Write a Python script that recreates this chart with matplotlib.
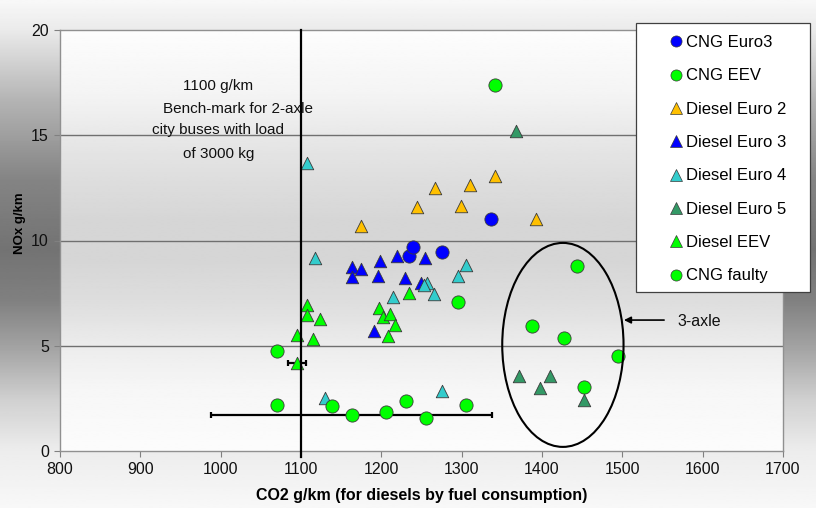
import numpy as np
import matplotlib as mpl
mpl.use('AGG')
import matplotlib.pyplot as plt
from matplotlib.lines import Line2D
from matplotlib.patches import Ellipse, Rectangle

mpl.rc('font', **{'family': 'Liberation Sans', 'size': 11})

# ---- data ----
cng_euro3_x = [1234, 1239, 1276, 1336]
cng_euro3_y = [9.26, 9.69, 9.45, 11.0]

cng_eev_x = [1070, 1163, 1206, 1231, 1256, 1305, 1387, 1427, 1443, 1494, 1452]
cng_eev_y = [2.19, 1.71, 1.85, 2.38, 1.57, 2.19, 5.94, 5.37, 8.79, 4.51, 3.04]

d_euro2_x = [1175, 1244, 1267, 1299, 1310, 1341, 1392]
d_euro2_y = [10.69, 11.6, 12.5, 11.64, 12.64, 13.06, 11.02]

d_euro3_x = [1164, 1175, 1164, 1198, 1196, 1219, 1254, 1229, 1249, 1191]
d_euro3_y = [8.74, 8.65, 8.27, 9.03, 8.31, 9.26, 9.17, 8.22, 7.98, 5.7]

d_euro4_x = [1107, 1117, 1305, 1296, 1257, 1253, 1266, 1214, 1130, 1275]
d_euro4_y = [13.7, 9.17, 8.84, 8.31, 7.98, 7.89, 7.46, 7.3, 2.52, 2.85]

d_euro5_x = [1368, 1371, 1397, 1410, 1452]
d_euro5_y = [15.2, 3.56, 3.0, 3.56, 2.42]

d_eev_x = [1108, 1108, 1124, 1095, 1115, 1197, 1202, 1211, 1217, 1208, 1234, 1095]
d_eev_y = [6.94, 6.46, 6.27, 5.51, 5.34, 6.81, 6.35, 6.51, 5.99, 5.48, 7.52, 4.18]

cng_faulty_x = [1070, 1139, 1296, 1341]
cng_faulty_y = [4.75, 2.14, 7.08, 17.39]

err_x = [1163, 1095]
err_y = [1.71, 4.18]
err_xerr = [175, 11]

series = [
    ('CNG Euro3', cng_euro3_x, cng_euro3_y, 'o', '#0000FF'),
    ('CNG EEV', cng_eev_x, cng_eev_y, 'o', '#00FF00'),
    ('Diesel Euro 2', d_euro2_x, d_euro2_y, '^', '#FFC000'),
    ('Diesel Euro 3', d_euro3_x, d_euro3_y, '^', '#0000FF'),
    ('Diesel Euro 4', d_euro4_x, d_euro4_y, '^', '#33CCCC'),
    ('Diesel Euro 5', d_euro5_x, d_euro5_y, '^', '#339966'),
    ('Diesel EEV', d_eev_x, d_eev_y, '^', '#00FF00'),
    ('CNG faulty', cng_faulty_x, cng_faulty_y, 'o', '#00FF00'),
]

fig = plt.figure(figsize=(8.16, 5.08), dpi=100)

# figure background: vertical grey gradient, darkest around the middle
bg = fig.add_axes([0, 0, 1, 1], zorder=-10)
rows = np.linspace(0, 508, 300)
fig_grad = np.interp(rows, [0, 30, 100, 180, 250, 300, 350, 400, 450, 508],
                     [248, 234, 180, 132, 115, 128, 165, 208, 236, 248])
bg.imshow(fig_grad[:, None], cmap='gray', vmin=0, vmax=255, aspect='auto',
          extent=[0, 1, 0, 1], interpolation='bilinear')
bg.axis('off')

ax = fig.add_axes([60/816, 57/508, 723/816, 421/508])
ax.patch.set_alpha(0)
yy = np.linspace(0, 20, 300)
ax_grad = np.interp(yy, [0, 3, 5, 7, 9, 11, 13, 15, 17, 20],
                    [252, 246, 236, 222, 214, 214, 222, 232, 244, 253])
ax.imshow(ax_grad[:, None], extent=[800, 1700, 0, 20], origin='lower',
          aspect='auto', cmap='gray', vmin=0, vmax=255, zorder=0,
          interpolation='bilinear')

for yv in [5, 10, 15]:
    ax.axhline(yv, color='#707070', lw=1.0, zorder=1)

ax.errorbar(err_x, err_y, xerr=err_xerr, fmt='none', ecolor='black',
            elinewidth=1.6, capsize=2.5, capthick=1.6, zorder=2)

for i, (name, xs, ys, m, c) in enumerate(series):
    size = 9.5 if m == 'o' else 9.0
    ax.scatter(xs, ys, s=size**2, marker=m, c=c, edgecolors='#3a3a3a',
               linewidths=0.6, zorder=3 + i * 0.1)

ax.plot([1100, 1100], [-0.3, 20], color='black', lw=1.6, zorder=5, clip_on=False)

ax.add_patch(Ellipse((1426, 5.04), 151, 9.69, fill=False, ec='black', lw=1.5, zorder=5))
ax.annotate('', xy=(1502, 6.22), xytext=(1552, 6.22),
            arrowprops=dict(arrowstyle='-|>', color='black', lw=1.2,
                            mutation_scale=10, shrinkA=0, shrinkB=0))
ax.text(1569, 6.22, '3-axle', fontsize=11.5, va='center_baseline', ha='left', color='#111111')

bench_lines = ['1100 g/km', 'Bench-mark for 2-axle', 'city buses with load', 'of 3000 kg']
bench_x = [997, 1021, 997, 997]
bench_y = [17.39, 16.34, 15.3, 14.2]
for t, bx, by in zip(bench_lines, bench_x, bench_y):
    ax.text(bx, by, t, fontsize=11, ha='center', va='center_baseline', color='#111111', zorder=6)

ax.set_xlim(800, 1700)
ax.set_ylim(0, 20)
ax.set_xticks(np.arange(800, 1701, 100))
ax.set_yticks(np.arange(0, 21, 5))
ax.tick_params(direction='out', length=4, color='#808080', labelsize=11.5,
               labelcolor='#111111', pad=4)
for s in ax.spines.values():
    s.set_color('#909090')
    s.set_linewidth(1.0)

ax.set_xlabel('CO2 g/km (for diesels by fuel consumption)', fontsize=11.5,
              fontweight='bold', labelpad=8)
ax.set_ylabel('NOx g/km', fontsize=9.5, fontweight='bold')
ax.yaxis.set_label_coords(-0.047, 0.54)

# legend box
fig.add_artist(Rectangle((636/816, 1 - 292/508), 174/816, 269/508,
                         transform=fig.transFigure, fc='white', ec='#404040',
                         lw=0.9, zorder=20))
handles = [Line2D([], [], ls='none', marker=m, markerfacecolor=c,
                  markeredgecolor='#3a3a3a', markeredgewidth=0.5,
                  markersize=8) for (_, _, _, m, c) in series]
labels = [s[0] for s in series]
leg = fig.legend(handles, labels, loc='upper left',
                 bbox_to_anchor=(670/816, 1 - 35/508), frameon=False,
                 fontsize=12, handlelength=0.7, handletextpad=0.25,
                 labelspacing=1.1, borderpad=0, borderaxespad=0)
leg.set_zorder(21)

plt.savefig('out.png', dpi=100)
